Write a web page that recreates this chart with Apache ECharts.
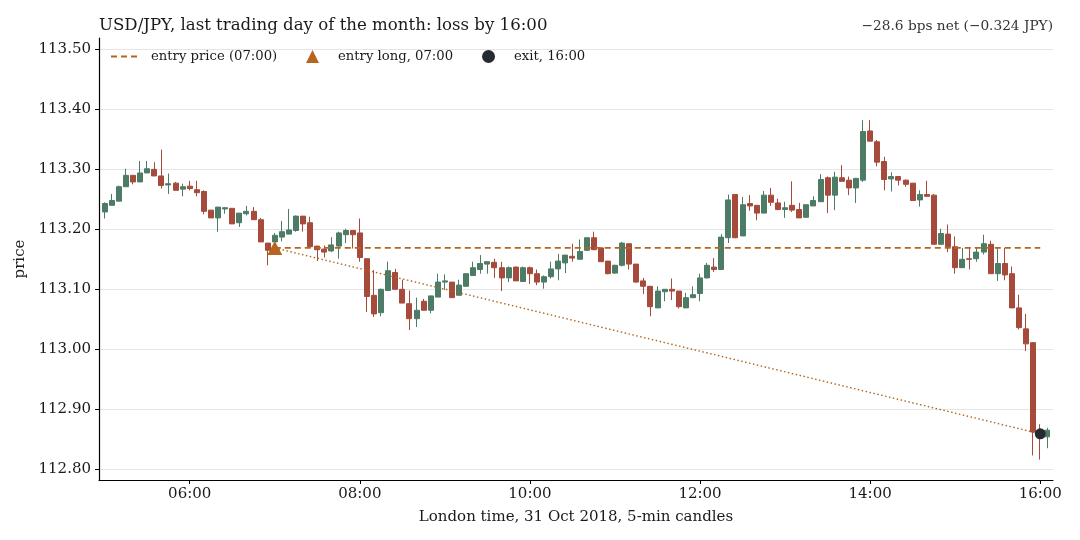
<!DOCTYPE html>
<html><head><meta charset="utf-8">
<script src="https://cdn.jsdelivr.net/npm/echarts@6/dist/echarts.min.js"></script>
<style>html,body{margin:0;padding:0;background:#fff}#c{width:1080px;height:540px}</style>
</head><body><div id="c"></div>
<script>
// 5-minute candles starting at 05:00 (minutes since midnight)
const startMinute = 300;
const stepMinutes = 5;
const opens = [113.229,113.240,113.247,113.271,113.290,113.279,113.294,113.300,113.289,113.274,
113.277,113.267,113.272,113.266,113.263,113.232,113.219,113.234,113.235,113.211,
113.226,113.230,113.216,113.177,113.179,113.187,113.192,113.198,113.222,113.211,
113.172,113.167,113.164,113.172,113.191,113.198,113.194,113.151,113.090,113.061,
113.098,113.128,113.100,113.076,113.051,113.080,113.065,113.087,113.112,113.112,
113.090,113.105,113.123,113.133,113.142,113.145,113.136,113.119,113.137,113.113,
113.136,113.126,113.112,113.121,113.134,113.144,113.155,113.150,113.165,113.186,
113.169,113.147,113.127,113.140,113.176,113.142,113.114,113.105,113.069,113.096,
113.100,113.097,113.069,113.086,113.093,113.119,113.137,113.133,113.186,113.258,
113.189,113.243,113.240,113.227,113.257,113.244,113.233,113.240,113.233,113.220,
113.239,113.246,113.286,113.257,113.286,113.282,113.269,113.282,113.364,113.346,
113.313,113.284,113.288,113.282,113.277,113.249,113.258,113.257,113.175,113.192,
113.171,113.136,113.151,113.151,113.162,113.175,113.126,113.143,113.126,113.069,
113.034,113.011,112.861,112.854];
const closes = [113.243,113.248,113.271,113.290,113.279,113.294,113.301,113.289,113.273,113.276,
113.265,113.271,113.268,113.261,113.230,113.219,113.237,113.236,113.209,113.227,
113.230,113.216,113.179,113.165,113.190,113.196,113.199,113.222,113.209,113.171,
113.166,113.162,113.174,113.194,113.198,113.191,113.153,113.088,113.059,113.100,
113.131,113.100,113.077,113.051,113.065,113.065,113.089,113.112,113.114,113.086,
113.107,113.126,113.136,113.143,113.146,113.136,113.119,113.136,113.114,113.136,
113.126,113.112,113.121,113.134,113.147,113.157,113.152,113.163,113.186,113.166,
113.146,113.126,113.140,113.177,113.142,113.112,113.105,113.071,113.097,113.100,
113.097,113.071,113.086,113.091,113.119,113.140,113.133,113.187,113.249,113.186,
113.241,113.239,113.227,113.257,113.245,113.233,113.236,113.232,113.219,113.241,
113.248,113.283,113.257,113.287,113.280,113.269,113.285,113.363,113.347,113.312,
113.283,113.288,113.282,113.275,113.248,113.258,113.255,113.175,113.193,113.171,
113.136,113.150,113.150,113.162,113.176,113.126,113.143,113.124,113.069,113.036,
113.009,112.862,112.858,112.865];
const lows = [113.218,113.240,113.247,113.271,113.275,113.279,113.294,113.289,113.268,113.259,
113.265,113.255,113.265,113.255,113.225,113.219,113.196,113.226,113.209,113.204,
113.223,113.216,113.179,113.140,113.176,113.180,113.192,113.196,113.196,113.171,
113.147,113.153,113.162,113.151,113.177,113.168,113.146,113.062,113.054,113.055,
113.098,113.100,113.077,113.032,113.037,113.065,113.060,113.087,113.099,113.086,
113.090,113.105,113.123,113.126,113.126,113.119,113.097,113.112,113.114,113.112,
113.109,113.107,113.101,113.118,113.115,113.127,113.146,113.150,113.165,113.166,
113.146,113.125,113.126,113.138,113.133,113.111,113.092,113.055,113.069,113.080,
113.082,113.068,113.069,113.086,113.080,113.118,113.129,113.133,113.177,113.185,
113.189,113.231,113.215,113.227,113.239,113.232,113.219,113.229,113.219,113.220,
113.239,113.246,113.227,113.232,113.280,113.257,113.244,113.279,113.347,113.305,
113.265,113.263,113.273,113.271,113.248,113.238,113.255,113.175,113.175,113.162,
113.126,113.136,113.133,113.146,113.158,113.126,113.114,113.115,113.069,113.033,
112.997,112.823,112.816,112.835];
const highs = [113.245,113.259,113.273,113.301,113.290,113.314,113.314,113.312,113.333,113.293,
113.279,113.276,113.281,113.281,113.265,113.232,113.237,113.237,113.235,113.227,
113.239,113.237,113.219,113.177,113.194,113.214,113.234,113.223,113.222,113.221,
113.172,113.173,113.187,113.196,113.201,113.198,113.218,113.151,113.132,113.101,
113.146,113.134,113.116,113.098,113.086,113.084,113.089,113.126,113.125,113.112,
113.116,113.126,113.146,113.157,113.146,113.151,113.146,113.138,113.138,113.138,
113.138,113.133,113.123,113.146,113.159,113.157,113.176,113.183,113.186,113.196,
113.169,113.147,113.141,113.179,113.176,113.142,113.119,113.105,113.105,113.100,
113.118,113.097,113.094,113.105,113.126,113.144,113.152,113.192,113.258,113.258,
113.254,113.257,113.240,113.264,113.269,113.251,113.246,113.280,113.244,113.241,
113.255,113.292,113.288,113.296,113.307,113.288,113.285,113.382,113.382,113.349,
113.321,113.295,113.288,113.283,113.277,113.265,113.281,113.259,113.201,113.208,
113.188,113.169,113.169,113.169,113.191,113.181,113.169,113.169,113.138,113.091,
113.059,113.012,112.875,112.869];
const yTickValues = [112.8,112.9,113.0,113.1,113.2,113.3,113.4,113.5];
const xTickLabels = ['06:00','08:00','10:00','12:00','14:00','16:00'];
const entryTime = '07:00', entryPrice = 113.169;
const exitTime = '16:00', exitPrice = 112.859;

const toMin = s => { const p = s.split(':'); return (+p[0])*60 + (+p[1]); };
const fmt = m => String(Math.floor(m/60)).padStart(2,'0') + ':' + String(Math.round(m%60)).padStart(2,'0');
const candles = opens.map((o,i)=>[startMinute + i*stepMinutes, o, closes[i], lows[i], highs[i]]);
const xTickValues = xTickLabels.map(toMin);
const ORANGE = '#b5651d';
const FONT = 'DejaVu Serif';

const chart = echarts.init(document.getElementById('c'), null, {renderer:'canvas'});
chart.setOption({
  animation:false,
  backgroundColor:'#ffffff',
  textStyle:{fontFamily:FONT},
  title:[
    {text:'USD/JPY, last trading day of the month: loss by 16:00', left:94, top:12, padding:5,
     textStyle:{fontFamily:FONT, fontSize:16.6, fontWeight:'normal', color:'#1a1a1a'}},
    {text:'\u221228.6 bps net (\u22120.324 JPY)', right:22, top:14, padding:5,
     textStyle:{fontFamily:FONT, fontSize:13.7, fontWeight:'normal', color:'#333333'}}
  ],
  legend:[
    {
      left:110, top:50, padding:0, itemWidth:30, itemHeight:13,
      data:[{name:'entry price (07:00)', itemStyle:{opacity:0}}],
      textStyle:{fontFamily:FONT, fontSize:13.2, color:'#1a1a1a', padding:[0,0,0,5]}
    },
    {
      left:306, top:50, padding:0, itemWidth:13, itemHeight:13, itemGap:29,
      data:['entry long, 07:00','exit, 16:00'],
      textStyle:{fontFamily:FONT, fontSize:13.2, color:'#1a1a1a', padding:[0,0,0,14]}
    }
  ],
  grid:{left:99, right:27, top:38, bottom:60, containLabel:false},
  xAxis:{
    type:'value', min:296, max:969,
    name:'London time, 31 Oct 2018, 5-min candles', nameLocation:'middle', nameGap:30,
    nameTextStyle:{fontFamily:FONT, fontSize:15, color:'#1a1a1a', verticalAlign:'top'},
    axisLine:{show:true, onZero:false, lineStyle:{color:'#000', width:1.2}},
    axisTick:{show:true, length:4, customValues:xTickValues, lineStyle:{color:'#000'}},
    axisLabel:{customValues:xTickValues, formatter:v=>fmt(v), fontFamily:FONT, fontSize:15, color:'#1a1a1a', margin:7},
    splitLine:{show:false}
  },
  yAxis:{
    type:'value', min:112.782, max:113.519, scale:true,
    name:'price', nameLocation:'middle', nameGap:70, nameRotate:90,
    nameTextStyle:{fontFamily:FONT, fontSize:15, color:'#1a1a1a'},
    axisLine:{show:true, onZero:false, lineStyle:{color:'#000', width:1.2}},
    axisTick:{show:true, length:4, customValues:yTickValues, lineStyle:{color:'#000'}},
    axisLabel:{customValues:yTickValues, formatter:v=>v.toFixed(2), fontFamily:FONT, fontSize:15, color:'#1a1a1a', margin:8},
    splitLine:{show:true, lineStyle:{color:'#e5e5e5', width:1}}
  },
  series:[
    {
      type:'candlestick', name:'USD/JPY', data:candles, encode:{x:0, y:[1,2,3,4]},
      barWidth:5.5,
      itemStyle:{color:'#4d7c66', color0:'#a64b3c', borderColor:'#4d7c66', borderColor0:'#a64b3c', borderWidth:1}
    },
    {
      type:'line', name:'entry price (07:00)', symbol:'none',
      data:[[toMin(entryTime), entryPrice],[toMin(exitTime), entryPrice]],
      lineStyle:{color:ORANGE, width:1.8, type:[6,4]}, itemStyle:{color:ORANGE}, z:3
    },
    {
      type:'line', name:'path', symbol:'none',
      data:[[toMin(entryTime), entryPrice],[toMin(exitTime), exitPrice]],
      lineStyle:{color:ORANGE, width:1.4, type:[1.5,2.5]}, z:3
    },
    {
      type:'scatter', name:'entry long, 07:00', symbol:'triangle', symbolSize:[15,14],
      data:[[toMin(entryTime), entryPrice]], itemStyle:{color:ORANGE, opacity:1}, z:5
    },
    {
      type:'scatter', name:'exit, 16:00', symbol:'circle', symbolSize:11,
      data:[[toMin(exitTime), exitPrice]], itemStyle:{color:'#262a33', opacity:1}, z:5
    }
  ]
});
</script></body></html>
